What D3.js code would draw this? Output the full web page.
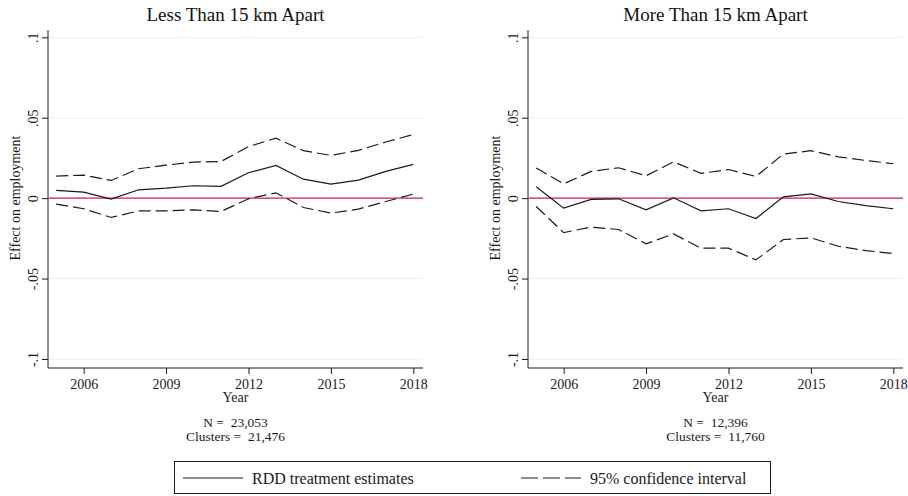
<!DOCTYPE html>
<html>
<head>
<meta charset="utf-8">
<script src="https://cdn.jsdelivr.net/npm/d3@7"></script>
<style>
  body { margin: 0; background: #fff; }
  svg { display: block; }
  svg text { font-family: "Liberation Serif", "DejaVu Serif", serif; white-space: pre; }
</style>
</head>
<body>
<div id="chart"></div>
<script>
// values

let years = [2005, 2006, 2007, 2008, 2009, 2010, 2011, 2012, 2013, 2014, 2015, 2016, 2017, 2018];

let nearEst = [0.0048, 0.0037, -0.0006, 0.0052, 0.0062, 0.0077, 0.0073, 0.0158, 0.0203, 0.0118, 0.0087, 0.0112, 0.0166, 0.0210];
let nearHi = [0.0137, 0.0143, 0.0110, 0.0183, 0.0205, 0.0224, 0.0228, 0.0320, 0.0373, 0.0295, 0.0266, 0.0297, 0.0349, 0.0396];
let nearLo = [-0.0037, -0.0066, -0.0120, -0.0079, -0.0079, -0.0073, -0.0083, -0.0004, 0.0033, -0.0058, -0.0093, -0.0068, -0.0021, 0.0025];

let farEst = [0.0071, -0.0062, -0.0008, -0.0004, -0.0073, 0.0002, -0.0079, -0.0066, -0.0127, 0.0008, 0.0027, -0.0021, -0.0046, -0.0066];
let farHi = [0.0187, 0.0089, 0.0166, 0.0189, 0.0139, 0.0226, 0.0154, 0.0178, 0.0135, 0.0274, 0.0295, 0.0257, 0.0234, 0.0214];
let farLo = [-0.0052, -0.0214, -0.0180, -0.0195, -0.0284, -0.0222, -0.0311, -0.0311, -0.0384, -0.0257, -0.0247, -0.0299, -0.0326, -0.0344];

let xTicks = [2006, 2009, 2012, 2015, 2018];
let yTicks = [-0.1, -0.05, 0, 0.05, 0.1];
let yTickLabels = ["-.1", "-.05", "0", ".05", ".1"];

let panelTitles = ["Less Than 15 km Apart", "More Than 15 km Apart"];
let panelNotes = [
  ["N =  23,053", "Clusters =  21,476"],
  ["N =  12,396", "Clusters =  11,760"]
];
let legendLabels = ["RDD treatment estimates", "95% confidence interval"];

let svgWidth = 908;
let svgHeight = 496;

let svg = d3.select("#chart")
  .append("svg")
  .attr("width", svgWidth)
  .attr("height", svgHeight);

// one panel = plot region from axis line to right end
let panelWidth = 375;
let axisTop = 30;
let axisBottom = 368;

let gridColor = "#e6eef0";
let zeroColor = "#d6204e";
let inkColor = "#1a1a1a";

function drawPanel(offsetX, title, est, lo, hi, notes) {

  let g = svg.append("g")
    .attr("transform", `translate(${offsetX}, 0)`);

  let xScale = d3.scaleLinear()
    .domain([2005, 2018])
    .range([8.2, 365.3]);

  let yScale = d3.scaleLinear()
    .domain([-0.1, 0.1])
    .range([359, 37.3]);

  // gridlines
  g.selectAll(".grid")
    .data(yTicks)
    .enter()
    .append("line")
    .attr("class", "grid")
    .attr("x1", 0)
    .attr("x2", panelWidth)
    .attr("y1", d => yScale(d))
    .attr("y2", d => yScale(d))
    .attr("stroke", gridColor)
    .attr("stroke-width", 1);

  // y axis
  let leftAxis = d3.axisLeft(yScale)
    .tickValues(yTicks)
    .tickSize(6)
    .tickFormat((d, i) => yTickLabels[i]);

  let yAxis = g.append("g").call(leftAxis)
    .attr("font-family", null)
    .attr("font-size", null);
  yAxis.select(".domain")
    .attr("d", `M0,${axisTop}V${axisBottom}`)
    .attr("stroke", inkColor);
  yAxis.selectAll(".tick line").attr("stroke", inkColor);
  yAxis.selectAll(".tick text")
    .attr("x", 0)
    .attr("y", 0)
    .attr("dy", 0)
    .attr("transform", "translate(-10, 0) rotate(-90)")
    .attr("text-anchor", "middle")
    .attr("fill", inkColor)
    .style("font-size", "14px");

  // x axis
  let bottomAxis = d3.axisBottom(xScale)
    .tickValues(xTicks)
    .tickSize(6)
    .tickFormat(d3.format("d"));

  let xAxis = g.append("g")
    .attr("transform", `translate(0, ${axisBottom})`)
    .call(bottomAxis)
    .attr("font-family", null)
    .attr("font-size", null);
  xAxis.select(".domain")
    .attr("d", `M0,0H${panelWidth}`)
    .attr("stroke", inkColor);
  xAxis.selectAll(".tick line").attr("stroke", inkColor);
  xAxis.selectAll(".tick text")
    .attr("y", 21)
    .attr("dy", 0)
    .attr("fill", inkColor)
    .style("font-size", "14px");

  // zero reference line
  g.append("line")
    .attr("x1", 0.5)
    .attr("x2", panelWidth)
    .attr("y1", yScale(0))
    .attr("y2", yScale(0))
    .attr("stroke", zeroColor)
    .attr("stroke-width", 1.3);

  let line = d3.line()
    .x(d => xScale(d[0]))
    .y(d => yScale(d[1]));

  [hi, lo].forEach(series => {
    g.append("path")
      .datum(d3.zip(years, series))
      .attr("d", line)
      .attr("fill", "none")
      .attr("stroke", inkColor)
      .attr("stroke-width", 1.2)
      .attr("stroke-dasharray", "12,5");
  });

  g.append("path")
    .datum(d3.zip(years, est))
    .attr("d", line)
    .attr("fill", "none")
    .attr("stroke", inkColor)
    .attr("stroke-width", 1.2);

  // titles
  let midX = panelWidth / 2;

  g.append("text")
    .attr("x", midX)
    .attr("y", 21)
    .attr("text-anchor", "middle")
    .style("font-size", "19px")
    .attr("fill", "#111")
    .text(title);

  g.append("text")
    .attr("transform", `translate(-28, 198) rotate(-90)`)
    .attr("text-anchor", "middle")
    .style("font-size", "14px")
    .attr("fill", inkColor)
    .text("Effect on employment");

  g.append("text")
    .attr("x", midX)
    .attr("y", 402)
    .attr("text-anchor", "middle")
    .style("font-size", "14px")
    .attr("fill", inkColor)
    .text("Year");

  g.selectAll(".note")
    .data(notes)
    .enter()
    .append("text")
    .attr("class", "note")
    .attr("x", midX)
    .attr("y", (d, i) => 427 + i * 13.5)
    .attr("text-anchor", "middle")
    .style("font-size", "13.5px")
    .attr("fill", inkColor)
    .text(d => d);
}

drawPanel(48, panelTitles[0], nearEst, nearLo, nearHi, panelNotes[0]);
drawPanel(528, panelTitles[1], farEst, farLo, farHi, panelNotes[1]);

// legend
let legend = svg.append("g");

legend.append("rect")
  .attr("x", 174.5)
  .attr("y", 461.5)
  .attr("width", 596)
  .attr("height", 32)
  .attr("fill", "#fff")
  .attr("stroke", inkColor)
  .attr("stroke-width", 1);

let legendItems = [
  { label: legendLabels[0], x: 183, dash: null },
  { label: legendLabels[1], x: 521, dash: "17,5" }
];

legendItems.forEach(item => {
  legend.append("line")
    .attr("x1", item.x)
    .attr("x2", item.x + 60)
    .attr("y1", 478)
    .attr("y2", 478)
    .attr("stroke", inkColor)
    .attr("stroke-width", 1.2)
    .attr("stroke-dasharray", item.dash);

  legend.append("text")
    .attr("x", item.x + 69)
    .attr("y", 484)
    .style("font-size", "16px")
    .attr("fill", inkColor)
    .text(item.label);
});
</script>
</body>
</html>
